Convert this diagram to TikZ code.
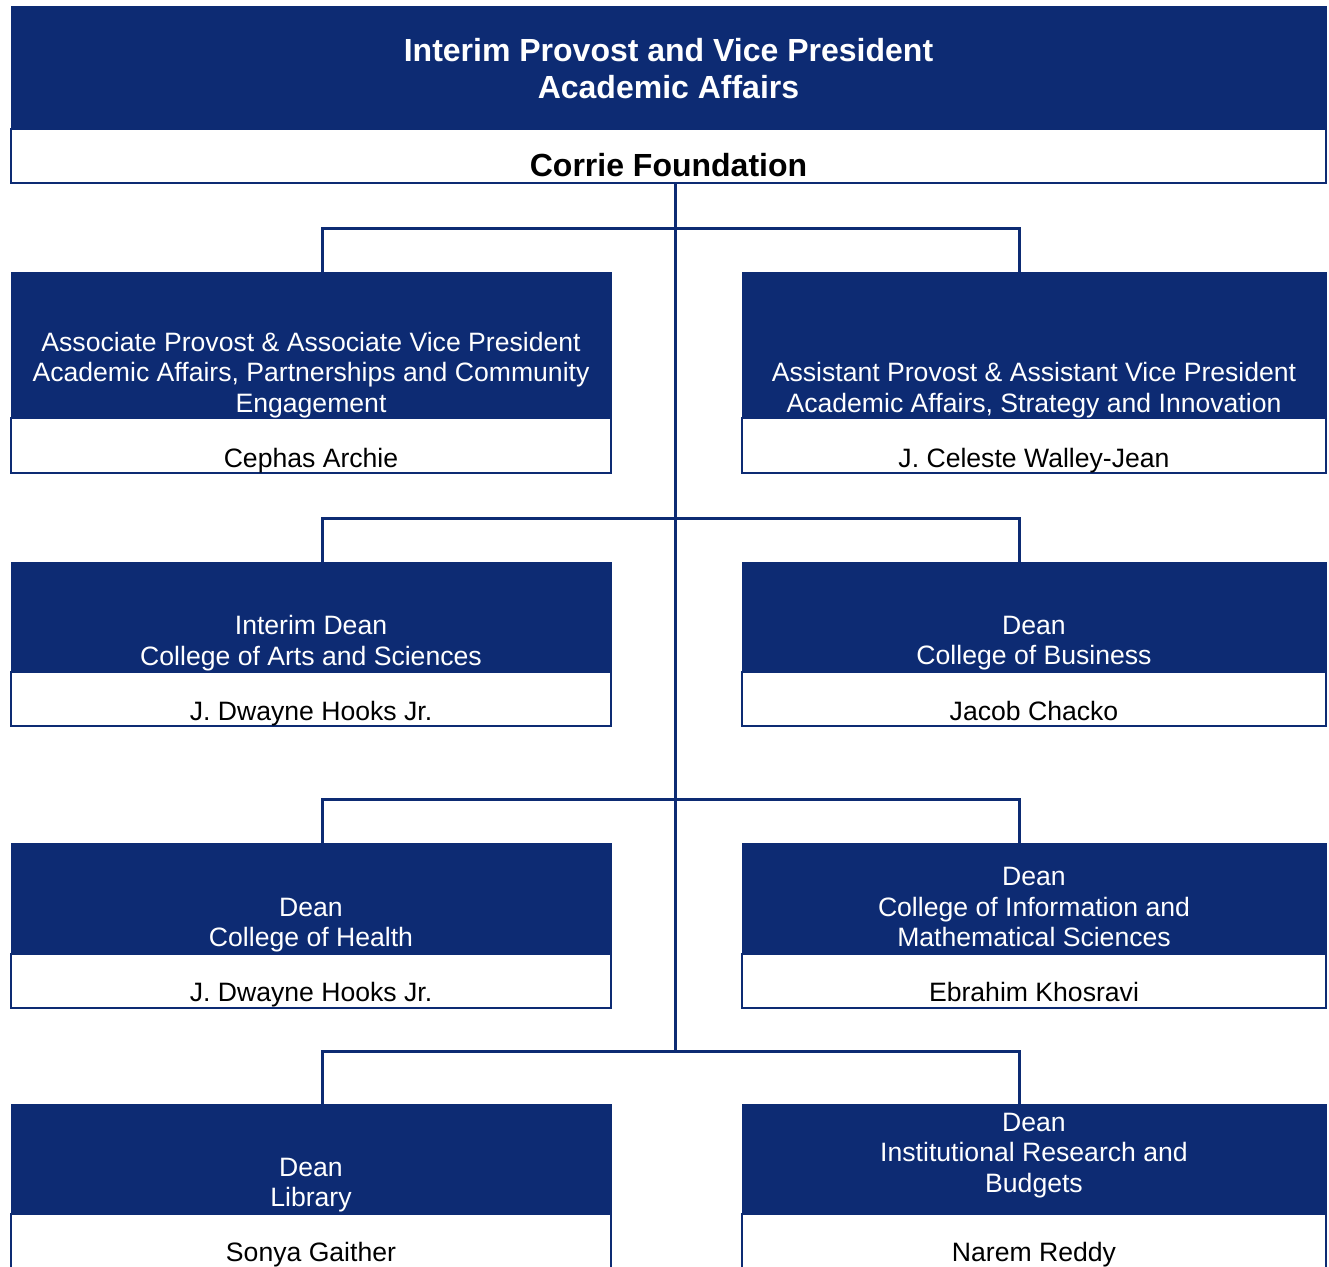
\documentclass[tikz,border=0pt]{standalone}
\usepackage{fontspec}
\setmainfont{Liberation Sans}
\usepackage{xcolor}
\usepackage{tikz}
\usetikzlibrary{positioning, calc}
\definecolor{navy}{RGB}{13,43,115}
\tikzset{
    hdrbox/.style={
        rectangle,
        fill=navy,
        draw=navy,
        inner sep=0pt,
        minimum width=300pt
    },
    namebox/.style={
        rectangle,
        fill=white,
        draw=navy,
        line width=1pt,
        inner sep=0pt,
        minimum width=300pt
    },
    hdrtext/.style={
        text=white,
        align=center,
        inner sep=0pt,
        text depth=0pt,
        font=\fontsize{13.3}{15.3}\selectfont
    },
    toptext/.style={
        hdrtext,
        font=\fontsize{16}{18.5}\selectfont\bfseries
    },
    nametext/.style={
        text=black,
        inner sep=0pt,
        text depth=0pt,
        font=\fontsize{13.3}{15.3}\selectfont
    },
    link/.style={
        draw=navy,
        line width=1.5pt
    }
}

\begin{document}
\begin{tikzpicture}[x=0.5pt, y=-0.5pt]

\useasboundingbox (0,0) rectangle (1329,1266);
\clip (0,0) rectangle (1329,1266);

% Provost
\node[namebox, minimum width=657.5pt, minimum height=27pt] (topn) at (668.5,156) {};
\node[hdrbox, minimum width=657.5pt, minimum height=61.5pt] (top) at (668.5,67.5) {};
\node[toptext] (topt) at (668.5,68.5) {Interim Provost and Vice President\\Academic Affairs};
\node[nametext, font=\fontsize{16}{18.5}\selectfont\bfseries] (topp) at (668.5,165) {Corrie Foundation};

% Bus points on the trunk
\coordinate (bus1) at (675,228);
\coordinate (bus2) at (675,518);
\coordinate (bus3) at (675,799);
\coordinate (bus4) at (675,1051);

% Row 1
\node[namebox, minimum height=27.5pt] (lt1n) at (311,445.5) {};
\node[hdrbox, minimum height=73pt] (lt1) at (311,345) {};
\node[hdrtext] (lt1t) at (311,372) {Associate Provost \& Associate Vice President\\Academic Affairs, Partnerships and Community\\Engagement};
\node[nametext] (lt1p) at (311,458) {Cephas Archie};

\node[namebox, minimum width=292pt, minimum height=27.5pt] (rt1n) at (1034,445.5) {};
\node[hdrbox, minimum width=292pt, minimum height=73pt] (rt1) at (1034,345) {};
\node[hdrtext] (rt1t) at (1034,387.5) {Assistant Provost \& Assistant Vice President\\Academic Affairs, Strategy and Innovation};
\node[nametext] (rt1p) at (1034,458) {J. Celeste Walley-Jean};

% Row 2
\node[namebox, minimum height=27pt] (lt2n) at (311,699) {};
\node[hdrbox, minimum height=55pt] (lt2) at (311,617) {};
\node[hdrtext] (lt2t) at (311,640.5) {Interim Dean\\College of Arts and Sciences};
\node[nametext] (lt2p) at (311,711) {J. Dwayne Hooks Jr.};

\node[namebox, minimum width=292pt, minimum height=27pt] (rt2n) at (1034,699) {};
\node[hdrbox, minimum width=292pt, minimum height=55pt] (rt2) at (1034,617) {};
\node[hdrtext] (rt2t) at (1034,640.5) {Dean\\College of Business};
\node[nametext] (rt2p) at (1034,711) {Jacob Chacko};

% Row 3
\node[namebox, minimum height=27pt] (lt3n) at (311,981) {};
\node[hdrbox, minimum height=55.5pt] (lt3) at (311,898.5) {};
\node[hdrtext] (lt3t) at (311,922.5) {Dean\\College of Health};
\node[nametext] (lt3p) at (311,992) {J. Dwayne Hooks Jr.};

\node[namebox, minimum width=292pt, minimum height=27pt] (rt3n) at (1034,981) {};
\node[hdrbox, minimum width=292pt, minimum height=55.5pt] (rt3) at (1034,898.5) {};
\node[hdrtext] (rt3t) at (1034,907) {Dean\\College of Information and\\Mathematical Sciences};
\node[nametext] (rt3p) at (1034,992) {Ebrahim Khosravi};

% Row 4 (runs off the page)
\node[namebox, minimum height=40pt] (lt4n) at (311,1254) {};
\node[hdrbox, minimum height=55pt] (lt4) at (311,1159) {};
\node[hdrtext] (lt4t) at (311,1182.5) {Dean\\Library};
\node[nametext] (lt4p) at (311,1252) {Sonya Gaither};

\node[namebox, minimum width=292pt, minimum height=40pt] (rt4n) at (1034,1254) {};
\node[hdrbox, minimum width=292pt, minimum height=55pt] (rt4) at (1034,1159) {};
\node[hdrtext] (rt4t) at (1034,1152.5) {Dean\\Institutional Research and\\Budgets};
\node[nametext] (rt4p) at (1034,1252) {Narem Reddy};

% Connectors
\draw[link] (topn.south -| bus1) -- (bus4);
\draw[link] ([xshift=5.5pt]lt1.north) |- (bus1) -| ([xshift=-7.5pt]rt1.north);
\draw[link] ([xshift=5.5pt]lt2.north) |- (bus2) -| ([xshift=-7.5pt]rt2.north);
\draw[link] ([xshift=5.5pt]lt3.north) |- (bus3) -| ([xshift=-7.5pt]rt3.north);
\draw[link] ([xshift=5.5pt]lt4.north) |- (bus4) -| ([xshift=-7.5pt]rt4.north);

\end{tikzpicture}
\end{document}
